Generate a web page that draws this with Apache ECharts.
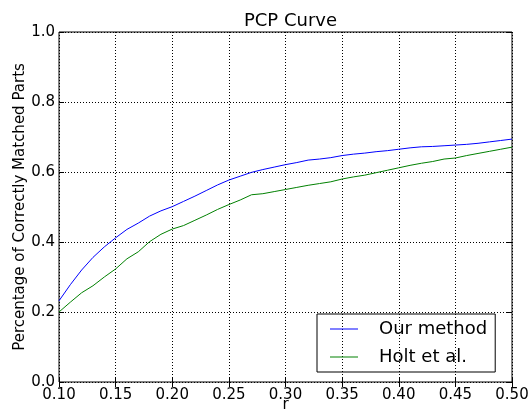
<!DOCTYPE html>
<html>
<head>
<meta charset="utf-8">
<script src="https://cdn.jsdelivr.net/npm/echarts@6/dist/echarts.min.js"></script>
<style>
  html, body { margin: 0; padding: 0; background: #fff; }
  #main { width: 532px; height: 410px; }
</style>
</head>
<body>
<div id="main"></div>
<script type="text/javascript">
var rValues = [0.10, 0.11, 0.12, 0.13, 0.14, 0.15, 0.16, 0.17, 0.18, 0.19,
               0.20, 0.21, 0.22, 0.23, 0.24, 0.25, 0.26, 0.27, 0.28, 0.29,
               0.30, 0.31, 0.32, 0.33, 0.34, 0.35, 0.36, 0.37, 0.38, 0.39,
               0.40, 0.41, 0.42, 0.43, 0.44, 0.45, 0.46, 0.47, 0.48, 0.49, 0.50];
var ourMethod = [0.232, 0.278, 0.320, 0.356, 0.386, 0.412, 0.436, 0.454, 0.474, 0.489,
                 0.501, 0.516, 0.531, 0.547, 0.563, 0.577, 0.588, 0.599, 0.607, 0.614,
                 0.621, 0.627, 0.634, 0.637, 0.641, 0.647, 0.651, 0.654, 0.658, 0.661,
                 0.665, 0.669, 0.672, 0.673, 0.675, 0.677, 0.679, 0.682, 0.686, 0.690, 0.694];
var holtEtAl = [0.200, 0.228, 0.255, 0.275, 0.300, 0.323, 0.352, 0.372, 0.401, 0.422,
                0.437, 0.447, 0.462, 0.477, 0.493, 0.507, 0.520, 0.535, 0.538, 0.544,
                0.550, 0.556, 0.562, 0.567, 0.572, 0.580, 0.586, 0.591, 0.598, 0.605,
                0.612, 0.619, 0.625, 0.630, 0.637, 0.640, 0.647, 0.653, 0.659, 0.665, 0.671];
var seriesNames = ['Our method', 'Holt et al.'];

function pairs(ys){
    var out = [];
    for(var i = 0; i < rValues.length; i++){
        out.push([rValues[i], ys[i]]);
    }
    return out;
}

var fontName = 'DejaVu Sans';
var gridLine = { show: true, lineStyle: { color: '#000', type: [1, 2], width: 1 } };

var myChart = echarts.init(document.getElementById('main'));
myChart.setOption({
    animation: false,
    textStyle: { fontFamily: fontName, color: '#000' },
    title: {
        text: 'PCP Curve',
        left: 285.5,
        top: 7,
        textAlign: 'center',
        textStyle: { fontFamily: fontName, fontSize: 18, fontWeight: 'normal', color: '#000' }
    },
    legend: {
        data: seriesNames,
        orient: 'vertical',
        left: 317,
        top: 314,
        padding: [6, 8, 6, 13],
        itemGap: 10,
        itemWidth: 28,
        itemHeight: 1,
        icon: 'rect',
        borderColor: '#000',
        borderWidth: 1,
        textStyle: { fontFamily: fontName, fontSize: 18, lineHeight: 18, color: '#000', padding: [0, 0, 0, 16] }
    },
    grid: {
        left: 59,
        right: 20,
        top: 32,
        bottom: 28,
        containLabel: false,
        outerBoundsMode: 'none',
        show: true,
        borderColor: '#000',
        borderWidth: 1
    },
    xAxis: [
        {
            type: 'value',
            min: 0.1,
            max: 0.5,
            interval: 0.05,
            name: 'r',
            nameLocation: 'middle',
            nameGap: 16,
            nameMoveOverlap: false,
            nameTextStyle: { fontFamily: fontName, fontSize: 15, color: '#000' },
            axisLine: { show: false },
            axisTick: { inside: true, length: 5, lineStyle: { color: '#000' } },
            axisLabel: {
                margin: 6, fontSize: 15, color: '#000', fontFamily: fontName,
                formatter: function(v){ return v.toFixed(2); }
            },
            splitLine: gridLine
        },
        {
            type: 'value',
            position: 'top',
            min: 0.1,
            max: 0.5,
            interval: 0.05,
            axisLine: { show: false },
            axisTick: { inside: true, length: 5, lineStyle: { color: '#000' } },
            axisLabel: { show: false },
            splitLine: { show: false }
        }
    ],
    yAxis: [
        {
            type: 'value',
            min: 0,
            max: 1,
            interval: 0.2,
            name: 'Percentage of Correctly Matched Parts',
            nameLocation: 'middle',
            nameGap: 31,
            nameMoveOverlap: false,
            nameTextStyle: { fontFamily: fontName, fontSize: 15, color: '#000' },
            axisLine: { show: false },
            axisTick: { inside: true, length: 5, lineStyle: { color: '#000' } },
            axisLabel: {
                margin: 4, fontSize: 15, color: '#000', fontFamily: fontName,
                formatter: function(v){ return v.toFixed(1); }
            },
            splitLine: gridLine
        },
        {
            type: 'value',
            position: 'right',
            min: 0,
            max: 1,
            interval: 0.2,
            axisLine: { show: false },
            axisTick: { inside: true, length: 5, lineStyle: { color: '#000' } },
            axisLabel: { show: false },
            splitLine: { show: false }
        }
    ],
    series: [
        {
            name: seriesNames[0],
            type: 'line',
            data: pairs(ourMethod),
            showSymbol: false,
            symbol: 'none',
            color: '#0000ff',
            lineStyle: { color: '#0000ff', width: 1 }
        },
        {
            name: seriesNames[1],
            type: 'line',
            data: pairs(holtEtAl),
            showSymbol: false,
            symbol: 'none',
            color: '#008000',
            lineStyle: { color: '#008000', width: 1 }
        }
    ]
});
</script>
</body>
</html>
